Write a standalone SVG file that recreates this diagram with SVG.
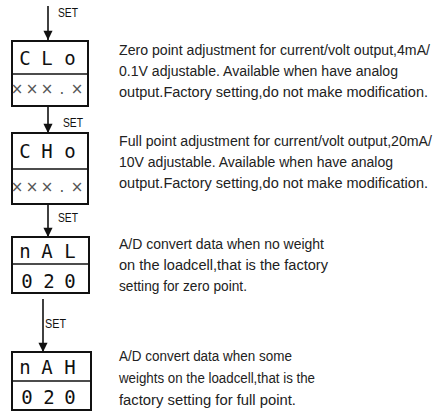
<svg xmlns="http://www.w3.org/2000/svg" width="433" height="415" viewBox="0 0 433 415">
<defs>
<marker id="ah" viewBox="0 0 10 12" refX="10" refY="6" markerWidth="10" markerHeight="11" markerUnits="userSpaceOnUse" orient="auto">
<path d="M0,1 L10,6 L0,11 Z" fill="#111"/>
</marker>
</defs>
<style>
.box{fill:#fff;stroke:#111;stroke-width:2}
.div{stroke:#111;stroke-width:1.6}
.seg{font-family:"DejaVu Sans Mono",monospace;font-size:19px;fill:#111;text-anchor:middle}
.x{font-family:"DejaVu Sans",sans-serif;font-size:15px;fill:#555;text-anchor:middle}
.desc{font-family:"Liberation Sans",Arial,sans-serif;font-size:14px;fill:#222}
.set{font-family:"Liberation Sans",Arial,sans-serif;font-size:13px;fill:#111}
.wire{stroke:#111;stroke-width:1.6;fill:none}
</style>
<rect width="433" height="415" fill="#fff"/>
<g id="connectors">
<line class="wire" x1="48" y1="6" x2="48" y2="40" marker-end="url(#ah)"/>
<text class="set" x="58" y="17" textLength="20" lengthAdjust="spacingAndGlyphs">SET</text>
<line class="wire" x1="48" y1="106" x2="48" y2="133" marker-end="url(#ah)"/>
<text class="set" x="63" y="127" textLength="20" lengthAdjust="spacingAndGlyphs">SET</text>
<line class="wire" x1="48" y1="205" x2="48" y2="237" marker-end="url(#ah)"/>
<text class="set" x="58" y="222" textLength="20" lengthAdjust="spacingAndGlyphs">SET</text>
<line class="wire" x1="43" y1="299" x2="43" y2="352" marker-end="url(#ah)"/>
<text class="set" x="45" y="328" textLength="21" lengthAdjust="spacingAndGlyphs">SET</text>
</g>
<g id="node-clo">
<rect class="box" x="12" y="41" width="76" height="65"/>
<line class="div" x1="12" y1="74" x2="88" y2="74"/>
<text class="seg" x="25 47 70" y="65">CLo</text>
<text class="x" x="17 32 47 62 77" y="94">×××.×</text>
<text class="desc" x="119" y="55" textLength="311" lengthAdjust="spacingAndGlyphs">Zero point adjustment for current/volt output,4mA/</text>
<text class="desc" x="119" y="76" textLength="279" lengthAdjust="spacingAndGlyphs">0.1V adjustable. Available when have analog</text>
<text class="desc" x="119" y="97" textLength="309" lengthAdjust="spacingAndGlyphs">output.Factory setting,do not make modification.</text>
</g>
<g id="node-cho">
<rect class="box" x="12" y="133" width="76" height="71"/>
<line class="div" x1="12" y1="169" x2="88" y2="169"/>
<text class="seg" x="25 47 70" y="158">CHo</text>
<text class="x" x="17 32 47 62 77" y="192">×××.×</text>
<text class="desc" x="119" y="146" textLength="313" lengthAdjust="spacingAndGlyphs">Full point adjustment for current/volt output,20mA/</text>
<text class="desc" x="119" y="167" textLength="274" lengthAdjust="spacingAndGlyphs">10V adjustable. Available when have analog</text>
<text class="desc" x="119" y="188" textLength="309" lengthAdjust="spacingAndGlyphs">output.Factory setting,do not make modification.</text>
</g>
<g id="node-nal">
<rect class="box" x="12" y="237" width="77" height="56"/>
<line class="div" x1="12" y1="264" x2="89" y2="264"/>
<text class="seg" x="25 47 70" y="258">nAL</text>
<text class="seg" x="27 49 70" y="288">020</text>
<text class="desc" x="119" y="249" textLength="205" lengthAdjust="spacingAndGlyphs">A/D convert data when no weight</text>
<text class="desc" x="119" y="270" textLength="209" lengthAdjust="spacingAndGlyphs">on the loadcell,that is the factory</text>
<text class="desc" x="119" y="291" textLength="128" lengthAdjust="spacingAndGlyphs">setting for zero point.</text>
</g>
<g id="node-nah">
<rect class="box" x="12" y="352" width="79" height="58"/>
<line class="div" x1="12" y1="381" x2="91" y2="381"/>
<text class="seg" x="25 47 70" y="374">nAH</text>
<text class="seg" x="27 49 70" y="404">020</text>
<text class="desc" x="119" y="361" textLength="173" lengthAdjust="spacingAndGlyphs">A/D convert data when some</text>
<text class="desc" x="119" y="383" textLength="196" lengthAdjust="spacingAndGlyphs">weights on the loadcell,that is the</text>
<text class="desc" x="119" y="405" textLength="177" lengthAdjust="spacingAndGlyphs">factory setting for full point.</text>
</g>
</svg>
